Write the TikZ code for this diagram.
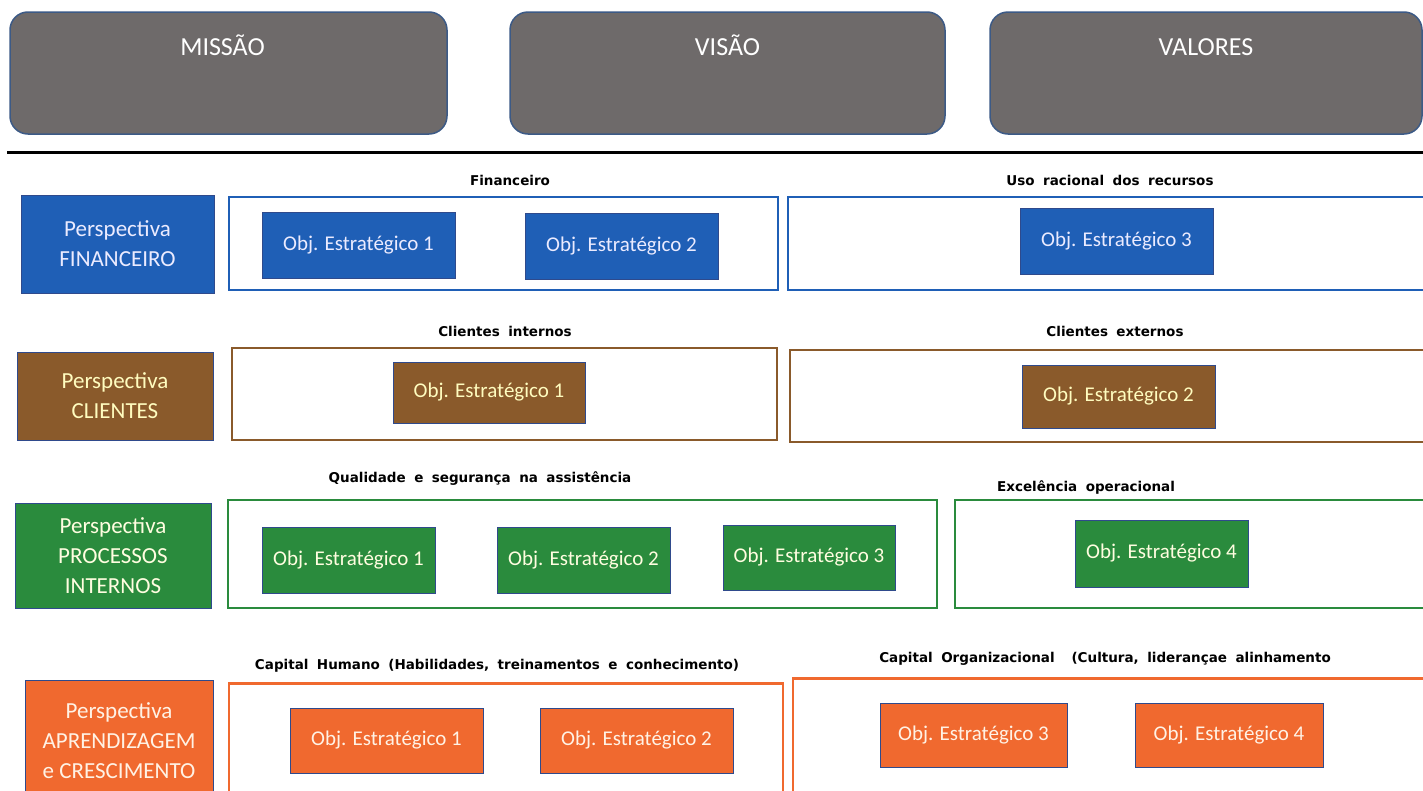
\documentclass[tikz,border=0pt]{standalone}
\usepackage{fontspec}
\setmainfont{Carlito}
\newfontfamily\headfont[WordSpace=1.8]{DejaVu Sans}
\usepackage{tikz}
\usetikzlibrary{positioning}

\definecolor{topgray}{HTML}{6E6A6A}
\definecolor{topedge}{HTML}{3C5A86}
\definecolor{finblue}{HTML}{1F5FB6}
\definecolor{clibrown}{HTML}{8A5A2B}
\definecolor{progreen}{HTML}{2A8B3D}
\definecolor{aprorange}{HTML}{F0692F}
\definecolor{objedge}{HTML}{2F4A8C}

\begin{document}
\begin{tikzpicture}[x=1pt,y=-1pt,
    topbox/.style={draw=topedge, line width=1.5pt, fill=topgray, rounded corners=18pt,
        minimum width=#1, minimum height=122pt, inner sep=0pt},
    toptext/.style={text=white, font=\fontsize{26}{30}\selectfont, inner sep=0pt, anchor=base},
    persp/.style={draw=objedge, line width=1pt, fill=#1, align=center,
        font=\fontsize{23}{30}\selectfont, inner sep=0pt},
    obj/.style={draw=objedge, line width=1pt, fill=#1,
        font=\fontsize{21}{24}\selectfont, inner sep=0pt},
    frame/.style={draw=#1, line width=2.5pt, inner sep=0pt},
    head/.style={font=\headfont\bfseries\fontsize{13.5}{15}\selectfont, inner sep=0pt}]
    \clip (0,0) rectangle (1423,790);
    \fill[white] (0,0) rectangle (1423,790);

    % mission, vision, values
    \node[topbox=437pt] (missao) at (228.5,73) {};
    \node[topbox=435pt] (visao) at (727.5,73) {};
    \node[topbox=432pt] (valores) at (1206,73) {};
    \node[toptext] (tmissao) at ([xshift=-6pt, yshift=-44pt]missao.north) {MISSÃO};
    \node[toptext] (tvisao) at ([yshift=-44pt]visao.north) {VISÃO};
    \node[toptext] (tvalores) at ([yshift=-44pt]valores.north) {VALORES};
    \draw[line width=3pt] (7,152) -- (1423,152);

    % financeiro
    \node[persp=finblue, text=blue!8, minimum width=193pt, minimum height=98pt] (pfin) at (117.5,244)
        {Perspectiva\\FINANCEIRO};
    \node[frame=finblue, minimum width=549pt, minimum height=93pt] (cfin1) at (503.5,243.5) {};
    \node[frame=finblue, minimum width=645pt, minimum height=93pt] (cfin2) at (1110.5,243.5) {};
    \node[head] (hfin1) at (510,180) {Financeiro};
    \node[head] (hfin2) at (1110,180) {Uso racional\ dos recursos};
    \node[obj=finblue, text=blue!8, minimum width=193pt, minimum height=66pt] (fin1) at (358.5,245) {Obj. Estratégico 1};
    \node[obj=finblue, text=blue!8, minimum width=193pt, minimum height=66pt] (fin2) at (621.5,246.5) {Obj. Estratégico 2};
    \node[obj=finblue, text=blue!8, minimum width=193pt, minimum height=66pt] (fin3) at (1116.5,241) {Obj. Estratégico 3};

    % clientes
    \node[persp=clibrown, text=yellow!25, minimum width=196pt, minimum height=88pt] (pcli) at (115,396)
        {Perspectiva\\CLIENTES};
    \node[frame=clibrown, minimum width=545pt, minimum height=92pt] (ccli1) at (504.5,394) {};
    \node[frame=clibrown, minimum width=640pt, minimum height=92pt] (ccli2) at (1110,396) {};
    \node[head] (hcli1) at (505,331) {Clientes internos};
    \node[head] (hcli2) at (1115,331) {Clientes externos};
    \node[obj=clibrown, text=yellow!25, minimum width=192pt, minimum height=61pt] (cli1) at (489,392.5) {Obj. Estratégico 1};
    \node[obj=clibrown, text=yellow!25, minimum width=193pt, minimum height=63pt] (cli2) at (1118.5,396.5) {Obj. Estratégico 2};

    % processos internos
    \node[persp=progreen, text=yellow!12, minimum width=196pt, minimum height=105pt] (ppro) at (113,555.5)
        {Perspectiva\\PROCESSOS\\INTERNOS};
    \node[frame=progreen, minimum width=709pt, minimum height=108pt] (cpro1) at (582.5,554) {};
    \node[frame=progreen, minimum width=475pt, minimum height=108pt] (cpro2) at (1192.5,554) {};
    \node[head] (hpro1) at (480,479) {Qualidade e segurança na assistência};
    \node[head] (hpro2) at (1086,487) {Excelência operacional};
    \node[obj=progreen, text=yellow!12, minimum width=173pt, minimum height=66pt] (pro1) at (348.5,560) {Obj. Estratégico 1};
    \node[obj=progreen, text=yellow!12, minimum width=173pt, minimum height=66pt] (pro2) at (583.5,560) {Obj. Estratégico 2};
    \node[obj=progreen, text=yellow!12, minimum width=172pt, minimum height=65pt] (pro3) at (809,557.5) {Obj. Estratégico 3};
    \node[obj=progreen, text=yellow!12, minimum width=173pt, minimum height=67pt] (pro4) at (1161.5,553.5) {Obj. Estratégico 4};

    % aprendizagem e crescimento
    \node[persp=aprorange, text=orange!10, minimum width=188pt, minimum height=120pt, anchor=north] (papr) at (119,680)
        {Perspectiva\\APRENDIZAGEM\\e CRESCIMENTO};
    \node[frame=aprorange, minimum width=554pt, minimum height=118pt, anchor=north] (capr1) at (506,682) {};
    \node[frame=aprorange, minimum width=637pt, minimum height=123pt, anchor=north] (capr2) at (1111.5,677) {};
    \node[head] (hapr1) at (497,666) {Capital Humano (Habilidades, treinamentos e conhecimento)};
    \node[head] (hapr2) at (1105,659) {Capital Organizacional\ \ (Cultura, liderançae alinhamento};
    \node[obj=aprorange, text=orange!10, minimum width=193pt, minimum height=65pt] (apr1) at (386.5,740.5) {Obj. Estratégico 1};
    \node[obj=aprorange, text=orange!10, minimum width=193pt, minimum height=65pt] (apr2) at (636.5,740.5) {Obj. Estratégico 2};
    \node[obj=aprorange, text=orange!10, minimum width=187pt, minimum height=64pt] (apr3) at (973.5,735) {Obj. Estratégico 3};
    \node[obj=aprorange, text=orange!10, minimum width=188pt, minimum height=64pt] (apr4) at (1229,735) {Obj. Estratégico 4};
\end{tikzpicture}
\end{document}
